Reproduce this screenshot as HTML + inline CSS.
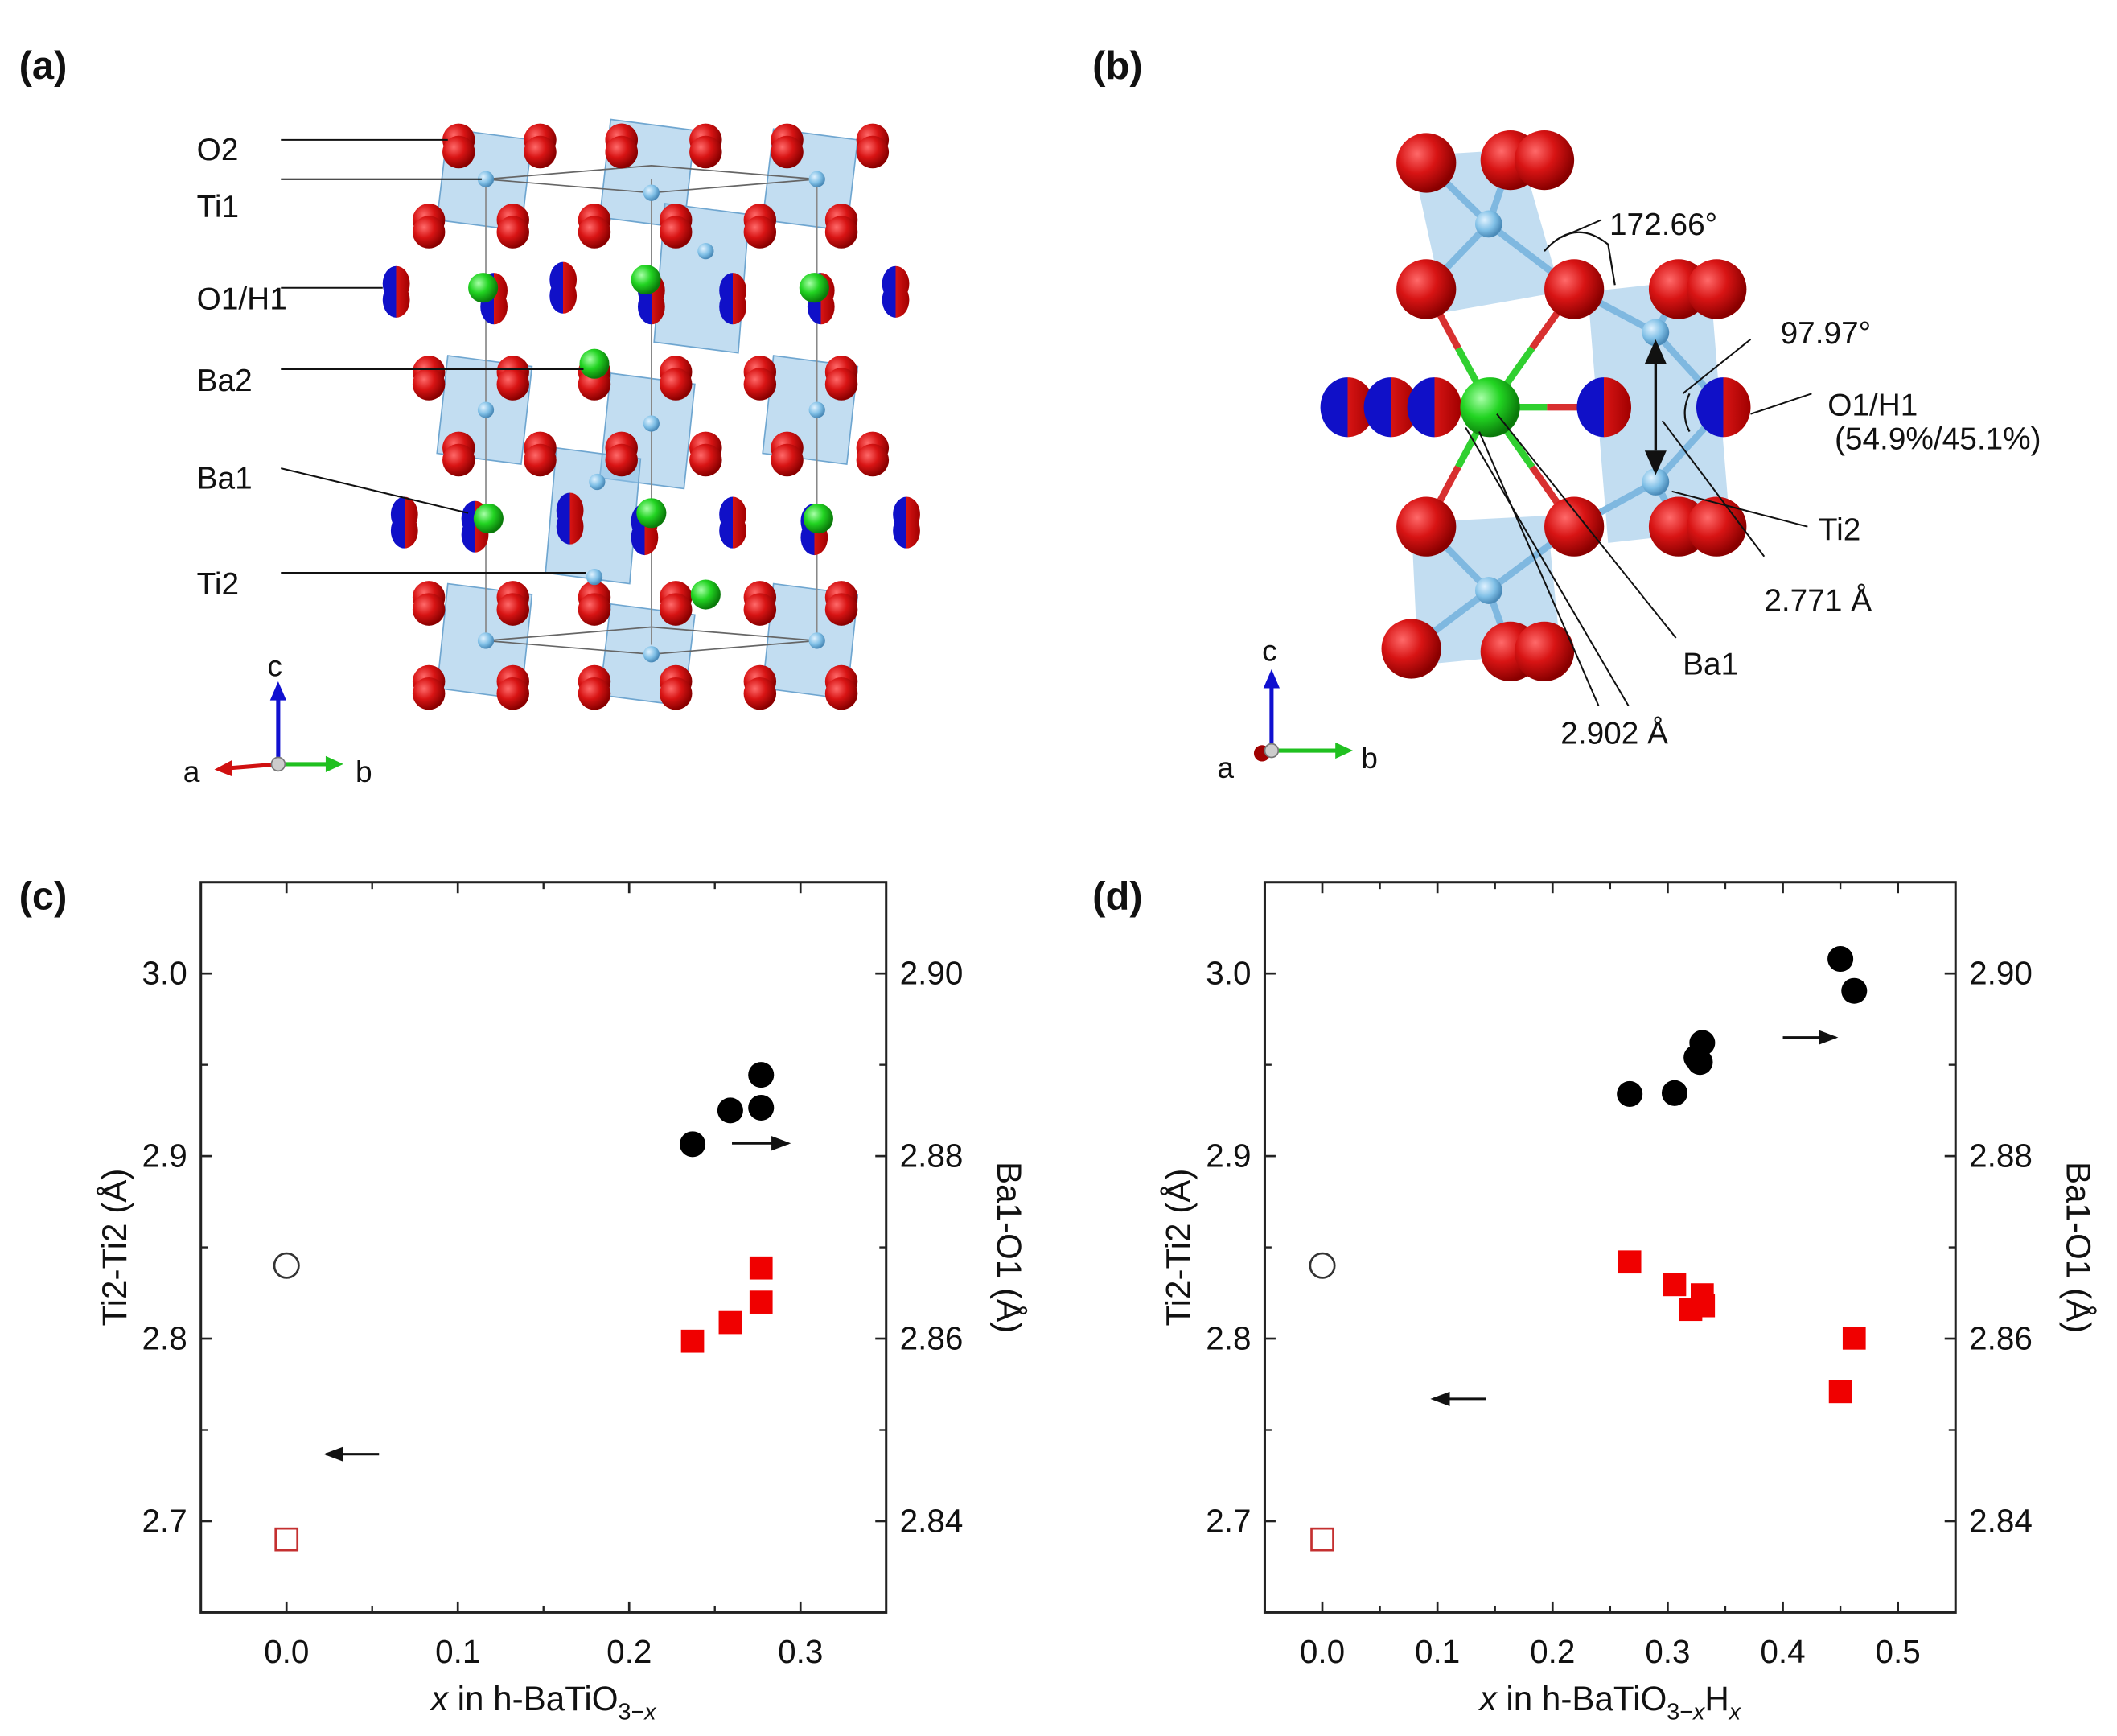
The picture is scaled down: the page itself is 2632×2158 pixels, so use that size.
<!DOCTYPE html>
<html><head><meta charset="utf-8"><style>
html,body{margin:0;padding:0;background:#fff}
svg{display:block}
text{font-family:"Liberation Sans",sans-serif;fill:#111}
</style></head><body>
<svg id="fig" width="2632" height="2158" viewBox="0 0 1560 1279" xmlns="http://www.w3.org/2000/svg">
<defs>
<radialGradient id="gr" cx="35%" cy="35%" r="65%"><stop offset="0" stop-color="#ff6a6a"/><stop offset="0.5" stop-color="#d81414"/><stop offset="1" stop-color="#8a0000"/></radialGradient>
<radialGradient id="gg" cx="35%" cy="35%" r="65%"><stop offset="0" stop-color="#a8ffa8"/><stop offset="0.5" stop-color="#22d422"/><stop offset="1" stop-color="#0a7a0a"/></radialGradient>
<radialGradient id="gt" cx="35%" cy="35%" r="65%"><stop offset="0" stop-color="#e0f2ff"/><stop offset="0.6" stop-color="#7fbfe6"/><stop offset="1" stop-color="#4a8ab8"/></radialGradient>
<linearGradient id="gbr" x1="0" x2="1"><stop offset="0" stop-color="#1010c8"/><stop offset="0.5" stop-color="#1010c8"/><stop offset="0.5" stop-color="#d81414"/><stop offset="1" stop-color="#a00000"/></linearGradient>
<marker id="ah" markerWidth="8" markerHeight="6" refX="7" refY="3" orient="auto"><path d="M0,0 L8,3 L0,6 z" fill="#111"/></marker>
</defs>
<g id="panelA"></g>
<g id="panelB"></g>
<g id="chartC"></g>
<g id="chartD"></g>
</svg>
<script>
// ---------- chart data ----------
const cOpenCircleX = [0.0];
const cOpenCircleR = [2.868];
const cCircleX = [0.237, 0.259, 0.277, 0.277];
const cCircleR = [2.8813, 2.885, 2.8889, 2.8853];
const cOpenSquareX = [0.0];
const cOpenSquareL = [2.690];
const cSquareX = [0.237, 0.259, 0.277, 0.277];
const cSquareL = [2.7986, 2.8088, 2.820, 2.8387];
const cXTicks = [0.0, 0.1, 0.2, 0.3];

const dOpenCircleX = [0.0];
const dOpenCircleR = [2.868];
const dCircleX = [0.267, 0.306, 0.325, 0.330, 0.328, 0.450, 0.462];
const dCircleR = [2.8868, 2.8869, 2.8908, 2.8924, 2.8903, 2.9016, 2.8981];
const dOpenSquareX = [0.0];
const dOpenSquareL = [2.690];
const dSquareX = [0.267, 0.306, 0.320, 0.330, 0.331, 0.462, 0.450];
const dSquareL = [2.842, 2.8296, 2.816, 2.824, 2.818, 2.8003, 2.771];
const dXTicks = [0.0, 0.1, 0.2, 0.3, 0.4, 0.5];

const leftTicks = [2.7, 2.8, 2.9, 3.0];
const leftTickLabels = ["2.7", "2.8", "2.9", "3.0"];
const rightTicks = [2.84, 2.86, 2.88, 2.90];
const rightTickLabels = ["2.84", "2.86", "2.88", "2.90"];

const NS = "http://www.w3.org/2000/svg";
function mk(parent, tag, attrs, text){
  const e = document.createElementNS(NS, tag);
  for (const k in attrs) e.setAttribute(k, attrs[k]);
  if (text !== undefined) e.textContent = text;
  parent.appendChild(e);
  return e;
}

function drawChart(gid, o){
  const g = document.getElementById(gid);
  const L=o.left, R=o.right, T=650, B=1188;
  const xs = v => L + (v - o.xmin)/(o.xmax - o.xmin)*(R-L);
  const yl = v => T + (3.05 - v)/(3.05 - 2.65)*(B-T);
  const yr = v => yl(3.0 - (2.90 - v)*5);
  let e;
  e = mk(g,'rect',{x:L,y:T,width:R-L,height:B-T,fill:'none',stroke:'#222','stroke-width':1.8});
  
  
  // x ticks
  o.xticks.forEach(v=>{
    const x = xs(v);
    mk(g,'line',{x1:x,y1:B,x2:x,y2:B-8,stroke:'#222','stroke-width':1.6});
    mk(g,'line',{x1:x,y1:T,x2:x,y2:T+8,stroke:'#222','stroke-width':1.6});
    const xm = xs(v+0.05);
    if (xm < R-1){
      mk(g,'line',{x1:xm,y1:B,x2:xm,y2:B-5,stroke:'#222','stroke-width':1.4});
      mk(g,'line',{x1:xm,y1:T,x2:xm,y2:T+5,stroke:'#222','stroke-width':1.4});
    }
    e = mk(g,'text',{x:x,y:B+37,'font-size':24,'text-anchor':'middle'}, v.toFixed(1));
    
    
  });
  const xm0 = xs(o.xticks[0]-0.05);
  // left ticks
  leftTicks.forEach((v,i)=>{
    const y = yl(v);
    mk(g,'line',{x1:L,y1:y,x2:L+8,y2:y,stroke:'#222','stroke-width':1.6});
    const ym = yl(v+0.05);
    mk(g,'line',{x1:L,y1:ym,x2:L+5,y2:ym,stroke:'#222','stroke-width':1.4});
    e = mk(g,'text',{x:L-10,y:y+8,'font-size':24,'text-anchor':'end'}, leftTickLabels[i]);
    
    
  });
  mk(g,'line',{x1:L,y1:yl(2.65+0.0),x2:L,y2:yl(2.65),stroke:'#222'});
  rightTicks.forEach((v,i)=>{
    const y = yr(v);
    mk(g,'line',{x1:R,y1:y,x2:R-8,y2:y,stroke:'#222','stroke-width':1.6});
    const ym = yr(v+0.01);
    mk(g,'line',{x1:R,y1:ym,x2:R-5,y2:ym,stroke:'#222','stroke-width':1.4});
    e = mk(g,'text',{x:R+10,y:y+8,'font-size':24,'text-anchor':'start'}, rightTickLabels[i]);
    
    
  });
  mk(g,'line',{x1:L,y1:yl(2.65),x2:L+5,y2:yl(2.65),stroke:'#222'});
  mk(g,'line',{x1:L,y1:yl(2.75),x2:L+5,y2:yl(2.75),stroke:'#222'});
  // axis titles
  e = mk(g,'text',{x:0,y:0,'font-size':25,'text-anchor':'middle',transform:`translate(${L-55},${(T+B)/2}) rotate(-90)`},'Ti2-Ti2 (Å)');
  
  
  e = mk(g,'text',{x:0,y:0,'font-size':25,'text-anchor':'middle',transform:`translate(${R+82},${(T+B)/2}) rotate(90)`},'Ba1-O1 (Å)');
  
  
  e = mk(g,'text',{x:(L+R)/2,y:B+72,'font-size':25,'text-anchor':'middle'});
  
  
  e.innerHTML = o.xtitle;
  // panel label
  e = mk(g,'text',{x:o.plx,y:670,'font-size':29,'font-weight':'bold'},o.pl);
  
  
  // arrows
  e = mk(g,'line',{x1:xs(o.ra[0]),y1:yl(o.ra[2]),x2:xs(o.ra[1]),y2:yl(o.ra[2]),stroke:'#111','stroke-width':1.8,'marker-end':'url(#ah)'});
  
  
  e = mk(g,'line',{x1:xs(o.la[1]),y1:yl(o.la[2]),x2:xs(o.la[0]),y2:yl(o.la[2]),stroke:'#111','stroke-width':1.8,'marker-end':'url(#ah)'});
  
  
  // markers
  o.ocx.forEach((x,i)=>{
    e = mk(g,'circle',{cx:xs(x),cy:yr(o.ocy[i]),r:9,fill:'none',stroke:'#333','stroke-width':1.6});
    
    
  });
  o.cx.forEach((x,i)=>{
    e = mk(g,'circle',{cx:xs(x),cy:yr(o.cy[i]),r:9.5,fill:'#000'});
    
    
  });
  o.osx.forEach((x,i)=>{
    e = mk(g,'rect',{x:xs(x)-8,y:yl(o.osy[i])-8,width:16,height:16,fill:'none',stroke:'#c43030','stroke-width':1.6});
    
    
  });
  o.sx.forEach((x,i)=>{
    e = mk(g,'rect',{x:xs(x)-8.5,y:yl(o.sy[i])-8.5,width:17,height:17,fill:'#f00000'});
    
    
  });
}

drawChart('chartC',{left:148,right:653,xmin:-0.05,xmax:0.35,xticks:cXTicks,pl:'(c)',plx:14,
  xtitle:'<tspan font-style="italic">x</tspan> in h-BaTiO<tspan font-size="17" dy="7">3−<tspan font-style="italic">x</tspan></tspan>',
  ra:[0.26,0.293,2.907], la:[0.023,0.054,2.7367],
  ocx:cOpenCircleX,ocy:cOpenCircleR,cx:cCircleX,cy:cCircleR,osx:cOpenSquareX,osy:cOpenSquareL,sx:cSquareX,sy:cSquareL});
drawChart('chartD',{left:932,right:1441,xmin:-0.05,xmax:0.55,xticks:dXTicks,pl:'(d)',plx:805,
  xtitle:'<tspan font-style="italic">x</tspan> in h-BaTiO<tspan font-size="17" dy="7">3−<tspan font-style="italic">x</tspan></tspan><tspan dy="-7">H</tspan><tspan font-size="17" dy="7" font-style="italic">x</tspan>',
  ra:[0.40,0.446,2.965], la:[0.096,0.142,2.767],
  ocx:dOpenCircleX,ocy:dOpenCircleR,cx:dCircleX,cy:dCircleR,osx:dOpenSquareX,osy:dOpenSquareL,sx:dSquareX,sy:dSquareL});

// ---------- panel (a) structure ----------
(function(){
  const g = document.getElementById('panelA');
  let e;
  e = mk(g,'text',{x:14,y:58,'font-size':29,'font-weight':'bold'},'(a)');
  
  
  const poly = [[322,95,70,75],[442,88,70,80],[562,95,70,75],[322,262,70,80],[442,275,70,85],[562,262,70,80],[402,330,70,100],[482,150,70,110],[322,430,70,85],[442,445,70,75],[562,430,70,85]];
  poly.forEach(p=>{ mk(g,'polygon',{points:`${p[0]+8},${p[1]} ${p[0]+p[2]},${p[1]+8} ${p[0]+p[2]-8},${p[1]+p[3]} ${p[0]},${p[1]+p[3]-8}`,fill:'#8fc1e6','fill-opacity':0.55,stroke:'#6fa6d0','stroke-width':1}); });
  [[358,132],[480,142],[602,132],[358,472],[480,482],[602,472]].forEach((p,i,a)=>{});
  mk(g,'polygon',{points:'358,132 480,142 602,132 480,122',fill:'none',stroke:'#666','stroke-width':1});
  mk(g,'polygon',{points:'358,472 480,482 602,472 480,462',fill:'none',stroke:'#666','stroke-width':1});
  [358,480,602].forEach(x=>mk(g,'line',{x1:x,y1:132,x2:x,y2:475,stroke:'#888','stroke-width':1}));
  const redRows = [[103,[338,398,458,458,520,580,643]],[162,[316,378,438,498,560,620]],[274,[316,378,438,498,560,620]],[330,[338,398,458,520,580,643]],[440,[316,378,438,498,560,620]],[502,[316,378,438,498,560,620]]];
  redRows.forEach(r=>r[1].forEach((x,i)=>{
    mk(g,'circle',{cx:x,cy:r[0],r:12,fill:'url(#gr)'});
    mk(g,'circle',{cx:x,cy:r[0]+9,r:12,fill:'url(#gr)'});
  }));
  [[292,215],[364,220],[415,212],[480,220],[540,220],[605,220],[660,215],[298,385],[350,388],[420,382],[475,390],[540,385],[600,390],[668,385]].forEach(p=>{
    mk(g,'ellipse',{cx:p[0],cy:p[1]-6,rx:10,ry:13,fill:'url(#gbr)'});
    mk(g,'ellipse',{cx:p[0],cy:p[1]+6,rx:10,ry:13,fill:'url(#gbr)'});
  });
  [[356,212],[476,206],[600,212],[360,382],[480,378],[603,382],[438,268],[520,438]].forEach(p=>mk(g,'circle',{cx:p[0],cy:p[1],r:11,fill:'url(#gg)'}));
  [[358,132],[480,142],[602,132],[358,302],[480,312],[602,302],[438,425],[358,472],[480,482],[602,472],[520,185],[440,355]].forEach(p=>mk(g,'circle',{cx:p[0],cy:p[1],r:6,fill:'url(#gt)'}));
  const labs = [['O2',110,103,330],['Ti1',152,132,355],['O1/H1',220,212,282],['Ba2',280,272,430],['Ba1',352,342,345],['Ti2',430,422,432]];
  labs.forEach(l=>{
    e = mk(g,'text',{x:145,y:l[1]+8,'font-size':23},l[0]);
    
    
    mk(g,'line',{x1:207,y1:l[0]==='Ba1'?345:l[2],x2:l[3],y2:l[0]==='Ba1'?378:l[2],stroke:'#111','stroke-width':1.2});
  });
  // axes
  mk(g,'line',{x1:205,y1:562,x2:205,y2:512,stroke:'#1010d0','stroke-width':3});
  mk(g,'polygon',{points:'205,502 199,516 211,516',fill:'#1010d0'});
  mk(g,'line',{x1:205,y1:563,x2:168,y2:566,stroke:'#d01010','stroke-width':3});
  mk(g,'polygon',{points:'158,567 171,560 171,572',fill:'#d01010'});
  mk(g,'line',{x1:205,y1:563,x2:242,y2:563,stroke:'#20c020','stroke-width':3});
  mk(g,'polygon',{points:'253,563 240,557 240,569',fill:'#20c020'});
  mk(g,'circle',{cx:205,cy:563,r:5,fill:'#ccc',stroke:'#777'});
  mk(g,'text',{x:197,y:498,'font-size':22},'c');
  mk(g,'text',{x:135,y:576,'font-size':22},'a');
  mk(g,'text',{x:262,y:576,'font-size':22},'b');
})();

// ---------- panel (b) structure ----------
(function(){
  const g = document.getElementById('panelB');
  let e;
  e = mk(g,'text',{x:805,y:58,'font-size':29,'font-weight':'bold'},'(b)');
  
  
  mk(g,'polygon',{points:'1040,115 1120,110 1150,215 1065,230',fill:'#8fc1e6','fill-opacity':0.55});
  mk(g,'polygon',{points:'1170,215 1260,205 1275,390 1185,400',fill:'#8fc1e6','fill-opacity':0.55});
  mk(g,'polygon',{points:'1040,385 1140,380 1150,480 1045,490',fill:'#8fc1e6','fill-opacity':0.55});
  const bonds=[[1097,165,1051,120],[1097,165,1113,118],[1097,165,1051,213],[1097,165,1160,213],[1220,245,1160,213],[1220,245,1237,213],[1220,245,1270,300],[1220,355,1160,388],[1220,355,1237,388],[1220,355,1270,300],[1097,435,1051,388],[1097,435,1160,388],[1097,435,1040,478],[1097,435,1113,480]];
  bonds.forEach(b=>mk(g,'line',{x1:b[0],y1:b[1],x2:b[2],y2:b[3],stroke:'#7fb8e0','stroke-width':5}));
  [[1051,213],[1160,213],[1051,388],[1160,388],[1182,300],[1057,300]].forEach(p=>{
    mk(g,'line',{x1:1098,y1:300,x2:(1098+p[0])/2,y2:(300+p[1])/2,stroke:'#30d030','stroke-width':5});
    mk(g,'line',{x1:(1098+p[0])/2,y1:(300+p[1])/2,x2:p[0],y2:p[1],stroke:'#d83030','stroke-width':5});
  });
  [[1051,120],[1113,118],[1138,118],[1051,213],[1160,213],[1237,213],[1265,213],[1051,388],[1160,388],[1237,388],[1265,388],[1040,478],[1113,480],[1138,480]].forEach(p=>mk(g,'circle',{cx:p[0],cy:p[1],r:22,fill:'url(#gr)'}));
  [[993,300],[1025,300],[1057,300],[1182,300],[1270,300]].forEach(p=>mk(g,'ellipse',{cx:p[0],cy:p[1],rx:20,ry:22,fill:'url(#gbr)'}));
  mk(g,'circle',{cx:1098,cy:300,r:22,fill:'url(#gg)'});
  [[1097,165],[1220,245],[1220,355],[1097,435]].forEach(p=>mk(g,'circle',{cx:p[0],cy:p[1],r:10,fill:'url(#gt)'}));
  mk(g,'line',{x1:1220,y1:268,x2:1220,y2:332,stroke:'#111','stroke-width':2});
  mk(g,'polygon',{points:'1220,250 1212,268 1228,268',fill:'#111'});
  mk(g,'polygon',{points:'1220,350 1212,332 1228,332',fill:'#111'});
  mk(g,'path',{d:'M1138,185 Q1160,160 1185,180 L1190,210',fill:'none',stroke:'#111','stroke-width':1.3});
  mk(g,'line',{x1:1150,y1:175,x2:1180,y2:162,stroke:'#111','stroke-width':1.2});
  mk(g,'path',{d:'M1245,290 Q1238,305 1245,318',fill:'none',stroke:'#111','stroke-width':1.3});
  mk(g,'line',{x1:1240,y1:290,x2:1290,y2:250,stroke:'#111','stroke-width':1.2});
  mk(g,'line',{x1:1290,y1:305,x2:1335,y2:290,stroke:'#111','stroke-width':1.2});
  mk(g,'line',{x1:1232,y1:362,x2:1332,y2:388,stroke:'#111','stroke-width':1.2});
  mk(g,'line',{x1:1225,y1:310,x2:1300,y2:410,stroke:'#111','stroke-width':1.2});
  mk(g,'line',{x1:1103,y1:305,x2:1235,y2:470,stroke:'#111','stroke-width':1.2});
  mk(g,'line',{x1:1080,y1:315,x2:1200,y2:520,stroke:'#111','stroke-width':1.2});
  mk(g,'line',{x1:1090,y1:318,x2:1178,y2:520,stroke:'#111','stroke-width':1.2});
  const labs=[['172.66°',1186,173,'start'],['97.97°',1312,253,'start'],['O1/H1',1380,306,'middle'],['(54.9%/45.1%)',1428,331,'middle'],['Ti2',1340,398,'start'],['2.771 Å',1300,450,'start'],['Ba1',1240,497,'start'],['2.902 Å',1150,548,'start']];
  labs.forEach(l=>{
    e = mk(g,'text',{x:l[1],y:l[2],'font-size':23,'text-anchor':l[3]},l[0]);
    
    
  });
  mk(g,'line',{x1:937,y1:553,x2:937,y2:505,stroke:'#1010d0','stroke-width':3});
  mk(g,'polygon',{points:'937,493 931,507 943,507',fill:'#1010d0'});
  mk(g,'line',{x1:937,y1:553,x2:985,y2:553,stroke:'#20c020','stroke-width':3});
  mk(g,'polygon',{points:'997,553 984,547 984,559',fill:'#20c020'});
  mk(g,'circle',{cx:930,cy:555,r:6,fill:'#a00000'});
  mk(g,'circle',{cx:937,cy:553,r:5,fill:'#ccc',stroke:'#777'});
  mk(g,'text',{x:930,y:487,'font-size':22},'c');
  mk(g,'text',{x:897,y:573,'font-size':22},'a');
  mk(g,'text',{x:1003,y:566,'font-size':22},'b');
})();
</script>
</body></html>
